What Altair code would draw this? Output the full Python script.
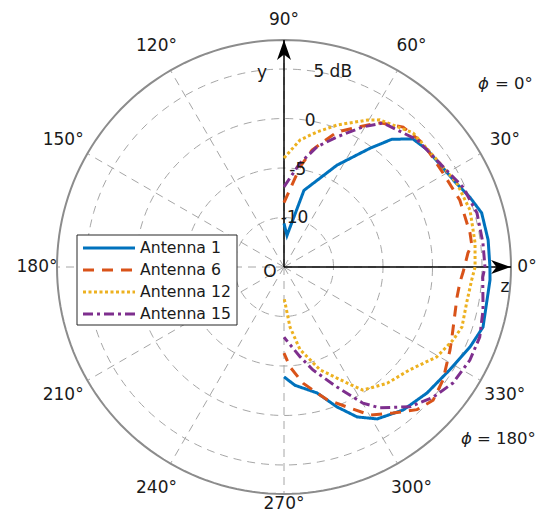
import altair as alt
import pandas as pd
import numpy as np

# ---------------- data ----------------
names = ["Antenna 1", "Antenna 6", "Antenna 12", "Antenna 15"]
colors = ["#0072BD", "#D95319", "#EDB120", "#7E2F8E"]
dashes = [[1, 0], [11, 8], [3, 2.5], [10, 4, 3, 4]]

ang_a1 = [90, 84.6, 75.4, 62.5, 54.1, 49.8, 44.8, 39.3, 26.4, 20.6, 15.3, 7.5, 0,
          -3.6, -16.8, -23.3, -31.8, -41.4, -50.2, -58.5, -64.0, -69.3, -75.3, -84.7, -90]
db_a1 = [-10.6, -11.8, -7.0, -3.4, -0.2, 1.9, 3.35, 3.7, 4.3, 5.05, 5.7, 5.8, 5.8,
         5.85, 6.0, 5.45, 4.7, 4.25, 3.8, 3.0, 1.85, 0.1, -1.85, -3.0, -3.9]

ang_a6 = [90, 80.9, 76.5, 68.6, 59.4, 56.3, 49.6, 41.7, 30.6, 20.8, 10.4, 6.7, 4.4,
          -1.6, -4.9, -9.8, -22.6, -26.6, -35.4, -41.8, -47, -53.3, -59.8, -65.8, -72,
          -80.7, -86.6, -90]
db_a6 = [-8.5, -4.77, -2.85, -0.35, 1.67, 2.5, 3.56, 3.8, 3.66, 4.0, 4.1, 4.1, 3.64,
         3.1, 2.84, 2.74, 3.38, 3.75, 4.7, 5.2, 4.7, 3.4, 2.3, 0.5, -0.9,
         -3.1, -4.9, -6.3]

ang_a12 = [90, 82.8, 76.3, 69.5, 60.3, 56.9, 46.1, 35, 25.9, 17, 7.2, 0, -4, -11.1,
           -18.6, -23.4, -30.5, -39.3, -48.4, -57.3, -61.5, -70.7, -79, -84.3, -90]
db_a12 = [-4.0, -2.07, -0.96, 0.31, 2.1, 2.74, 3.8, 3.86, 4.4, 4.65, 4.45, 4.3, 4.0, 3.8,
          3.97, 3.6, 2.9, 1.4, 0.7, -0.23, -1.67, -4.0, -6.5, -8.9, -11.9]

ang_a15 = [90, 81.3, 74.6, 67.8, 60.6, 55.5, 43.7, 32.2, 24, 15.6, 6.9, 0, -2.9, -12.2,
           -19.7, -26.6, -34.5, -41.1, -48, -55.8, -59.9, -66.2, -74.3, -79.9, -90]
db_a15 = [-6.9, -4.4, -2.4, -0.8, 1.24, 2.65, 3.6, 4.0, 4.8, 5.24, 5.24, 5.3, 5.1, 5.57,
          6.0, 6.0, 5.7, 5.0, 4.0, 2.2, 0.9, -1.75, -4.2, -5.8, -7.9]

r_ticks = [-10, -5, 0, 5]
r_tick_labels = ["-10", "-5", "0", "5 dB"]
theta_ticks = [0, 30, 60, 90, 120, 150, 180, 210, 240, 270, 300, 330]
theta_labels = ["0°", "30°", "60°", "90°", "120°", "150°", "180°",
                "210°", "240°", "270°", "300°", "330°"]

# ---------------- geometry / styling ----------------
W, H = 529, 505           # plot area = whole svg
CX, CY = 276, 259         # pole position in the plot area (px)
PX = 9.9                  # pixels per dB
R0 = -15                  # dB at the pole
R_OUT = 227 / PX + R0     # outer ring (dB)
LAB_AX, LAB_DIAG = 247 / PX, 255 / PX   # label distance from the pole (in dB span)
R_HEAD = 217 / PX + R0    # arrow head centre (dB)
XMAX_LAB = (519 - CX) / PX    # keep labels inside the drawing
YMIN_LAB = (CY - 496) / PX
YMAX_LAB = (CY - 12) / PX
FONT = "DejaVu Sans"
TXT = "#1a1a1a"
FS = 17

xs = alt.Scale(domain=[-CX / PX, (W - CX) / PX], nice=False, zero=False)
ys = alt.Scale(domain=[-(H - CY) / PX, CY / PX], nice=False, zero=False)
X = lambda f: alt.X(f, type="quantitative", scale=xs, axis=None)
Y = lambda f: alt.Y(f, type="quantitative", scale=ys, axis=None)


def with_polar(ch, rfield, afield, xo="x", yo="y"):
    return ch.transform_calculate(
        **{xo: f"(datum.{rfield} - ({R0})) * cos(datum.{afield} * PI / 180)",
           yo: f"(datum.{rfield} - ({R0})) * sin(datum.{afield} * PI / 180)"})


# curves
rows = []
for nm, aa, dd in zip(names, [ang_a1, ang_a6, ang_a12, ang_a15],
                      [db_a1, db_a6, db_a12, db_a15]):
    for i, (a, d) in enumerate(zip(aa, dd)):
        rows.append({"name": nm, "i": i, "ang": a, "db": d})
df_curves = pd.DataFrame(rows)

# grid rings
ring_ang = np.arange(0, 362, 2)
df_rings = pd.DataFrame([{"lev": lv, "ang": float(a)} for lv in r_ticks for a in ring_ang])
df_outer = pd.DataFrame([{"lev": R_OUT, "ang": float(a)} for a in ring_ang])
df_spokes = pd.DataFrame({"ang": theta_ticks, "r1": R_OUT})

rings = with_polar(alt.Chart(df_rings), "lev", "ang").mark_line(
    color="#a6a6a6", strokeWidth=1, strokeDash=[8, 6]
).encode(x=X("x"), y=Y("y"), detail="lev:N", order="ang:Q")

spokes = alt.Chart(df_spokes).transform_calculate(
    x0="0", y0="0",
    x1=f"(datum.r1 - ({R0})) * cos(datum.ang * PI / 180)",
    y1=f"(datum.r1 - ({R0})) * sin(datum.ang * PI / 180)",
).mark_rule(color="#a6a6a6", strokeWidth=1, strokeDash=[8, 6]).encode(
    x=X("x0"), y=Y("y0"), x2="x1", y2="y1")

outer = with_polar(alt.Chart(df_outer), "lev", "ang").mark_line(
    color="#8c8c8c", strokeWidth=2
).encode(x=X("x"), y=Y("y"), order="ang:Q")

# axes with arrows (z at 0 deg, y at 90 deg)
df_axes = pd.DataFrame({"ang": [0, 90], "r1": R_OUT, "rh": R_HEAD})
axes_lines = alt.Chart(df_axes).transform_calculate(
    x0="0", y0="0",
    x1=f"(datum.r1 - ({R0})) * cos(datum.ang * PI / 180)",
    y1=f"(datum.r1 - ({R0})) * sin(datum.ang * PI / 180)",
).mark_rule(color="#000000", strokeWidth=1.5).encode(
    x=X("x0"), y=Y("y0"), x2="x1", y2="y1")

arrow_shape = "M1,0 L-1,-0.7 L-0.45,0 L-1,0.7 Z"
heads = alt.Chart(df_axes).transform_calculate(
    hx=f"(datum.rh - ({R0})) * cos(datum.ang * PI / 180)",
    hy=f"(datum.rh - ({R0})) * sin(datum.ang * PI / 180)",
    rot="(360 - datum.ang) % 360",
).mark_point(shape=arrow_shape, filled=True, color="#000000", size=400, opacity=1).encode(
    x=X("hx"), y=Y("hy"), angle=alt.Angle("rot:Q", scale=None))

curves = with_polar(alt.Chart(df_curves), "db", "ang").mark_line(strokeWidth=3).encode(
    x=X("x"), y=Y("y"),
    color=alt.Color("name:N", scale=alt.Scale(domain=names, range=colors), legend=None),
    strokeDash=alt.StrokeDash("name:N", scale=alt.Scale(domain=names, range=dashes), legend=None),
    detail="name:N",
    order="i:Q",
)

# angle labels
df_theta = pd.DataFrame({"ang": theta_ticks, "lab": theta_labels})
theta_text = alt.Chart(df_theta).transform_calculate(
    rr=f"datum.ang % 90 == 0 ? {LAB_AX} : {LAB_DIAG}",
).transform_calculate(
    x=f"min(datum.rr * cos(datum.ang * PI / 180), {XMAX_LAB})",
    y=f"min(max(datum.rr * sin(datum.ang * PI / 180), {YMIN_LAB}), {YMAX_LAB})",
).mark_text(
    font=FONT, fontSize=FS, color=TXT, align="center", baseline="middle"
).encode(x=X("x"), y=Y("y"), text="lab:N")

# radial tick labels
df_r = pd.DataFrame({"v": r_ticks, "lab": r_tick_labels})
r_text = alt.Chart(df_r).transform_calculate(
    x=f"(datum.v - ({R0})) * cos(80 * PI / 180) - (datum.v < 0 ? 0.7 : 0)",
    y=f"(datum.v - ({R0})) * sin(80 * PI / 180)",
).mark_text(font=FONT, fontSize=FS, color=TXT, align="left", baseline="middle", dx=-5).encode(
    x=X("x"), y=Y("y"), text="lab:N")

one = alt.Data(values=[{}])


def note(txt, px, py, align="left", italic=False, size=FS):
    kw = dict(text=txt, font=FONT, fontSize=size, color=TXT, align=align, baseline="middle")
    if italic:
        kw["fontStyle"] = "italic"
    return alt.Chart(one).mark_text(**kw).encode(x=alt.value(px), y=alt.value(py))


notes = [
    note("y", 254, 65, "center"),
    note("z", 497, 279, "center"),
    note("O", 262, 264, "center"),
    note("ϕ", 470, 76, "left", True, 16.5),
    note("= 0°", 487, 76, "left", False, 16.5),
    note("ϕ", 453, 431, "left", True, 16.5),
    note("= 180°", 469, 431, "left", False, 16.5),
]

# legend (drawn as marks)
leg_box = alt.Chart(one).mark_rect(fill="white", stroke="#262626", strokeWidth=1).encode(
    x=alt.value(69), x2=alt.value(229), y=alt.value(227), y2=alt.value(317))
leg_layers = [leg_box]
for k, nm in enumerate(names):
    yy = 240 + 22 * k
    leg_layers.append(
        alt.Chart(one).mark_rule(color=colors[k], strokeWidth=3, strokeDash=dashes[k]).encode(
            x=alt.value(75), x2=alt.value(127), y=alt.value(yy)))
    leg_layers.append(
        alt.Chart(one).mark_text(text=nm, font=FONT, fontSize=15.7, color=TXT,
                                 align="left", baseline="middle").encode(
            x=alt.value(132), y=alt.value(yy)))

chart = alt.layer(
    rings, spokes, outer, axes_lines, heads, curves, theta_text, r_text, *notes, *leg_layers
).properties(
    width=W, height=H, padding=0, background="white",
    autosize=alt.AutoSizeParams(type="none")
).configure_view(stroke=None)

chart.save("out.html", embed_options={"renderer": "svg", "actions": False})
